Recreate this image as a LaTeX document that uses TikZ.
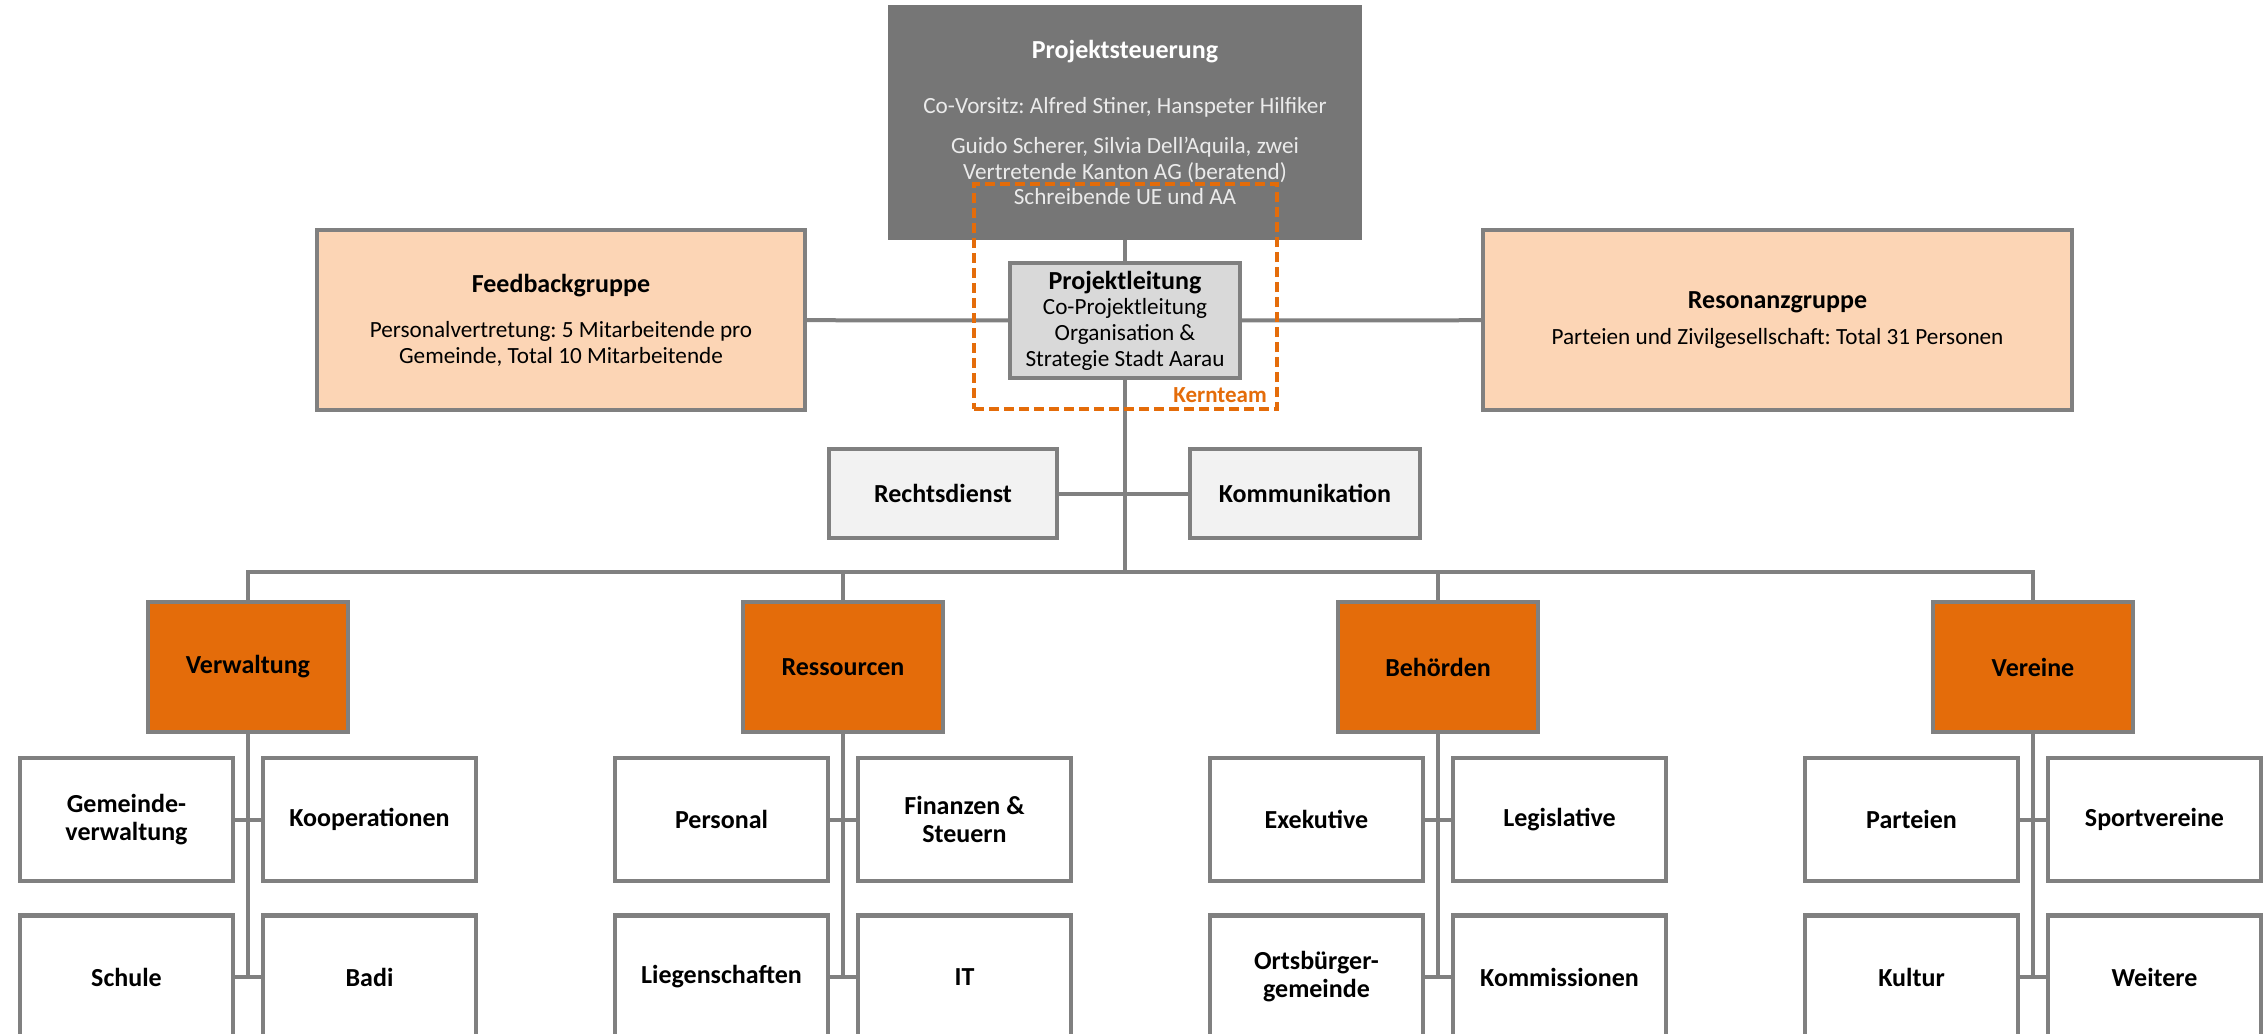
\documentclass[tikz,border=0pt]{standalone}
\usepackage{fontspec}
\setmainfont{Carlito}
\frenchspacing
\definecolor{rahmengrau}{RGB}{128,128,128}
\definecolor{steuergrau}{RGB}{118,118,118}
\definecolor{steuertext}{RGB}{235,235,235}
\definecolor{hellgrau}{RGB}{217,217,217}
\definecolor{fastweiss}{RGB}{242,242,242}
\definecolor{pfirsich}{RGB}{252,213,181}
\definecolor{orangedunkel}{RGB}{228,108,10}
\newcommand{\titel}[1]{{\fontsize{13}{15}\selectfont\bfseries #1}}

\begin{document}
\begin{tikzpicture}[x=0.5pt, y=-0.5pt,
        every node/.style={draw=rahmengrau, line width=2.2pt, align=center, inner sep=2pt,
            font=\fontsize{11.6}{12.8}\selectfont\frenchspacing},
        steuerbox/.style={fill=steuergrau, draw=steuergrau, text=steuertext,
            minimum width=235pt, minimum height=115.5pt},
        leitbox/.style={fill=hellgrau, minimum width=115pt, minimum height=57.5pt},
        gremium/.style={fill=pfirsich, minimum height=90pt},
        stabbox/.style={fill=fastweiss, minimum height=44.5pt,
            font=\fontsize{13}{15}\selectfont\bfseries},
        bereich/.style={fill=orangedunkel, minimum width=100pt, minimum height=65pt,
            font=\fontsize{13}{15}\selectfont\bfseries},
        teilbox/.style={fill=white, minimum width=106.5pt, minimum height=61.5pt,
            font=\fontsize{13}{14}\selectfont\bfseries},
        kernrahmen/.style={draw=orangedunkel, line width=2pt, dash pattern=on 5pt off 2.5pt,
            minimum width=151.5pt, minimum height=112.5pt},
        linie/.style={draw=rahmengrau, line width=2pt}]
    \useasboundingbox (0,0) rectangle (2267,1034);

    \node[steuerbox] (steuer) at (1125,122.5) {{\color{white}\titel{Projektsteuerung}}\\[15pt]
        Co-Vorsitz: Alfred Stiner, Hanspeter Hilfiker\\[7pt]
        Guido Scherer, Silvia Dell'Aquila, zwei\\
        Vertretende Kanton AG (beratend)\\
        Schreibende UE und AA};
    \node[leitbox] (leitung) at (1125,320.5) {\titel{Projektleitung}\\
        Co-Projektleitung\\ Organisation \&\\ Strategie Stadt Aarau};
    \node[gremium, minimum width=244pt] (feedback) at (561,320) {\titel{Feedbackgruppe}\\[10pt]
        Personalvertretung: 5 Mitarbeitende pro\\ Gemeinde, Total 10 Mitarbeitende};
    \node[gremium, minimum width=294.5pt] (resonanz) at (1777.5,320) {\titel{Resonanzgruppe}\\[5pt]
        Parteien und Zivilgesellschaft: Total 31 Personen};
    \node[stabbox, minimum width=114pt] (recht) at (943,493.5) {Rechtsdienst};
    \node[stabbox, minimum width=115pt] (komm) at (1305,493.5) {Kommunikation};

    \node[bereich] (verw) at (248,667) {Verwaltung};
    \node[bereich] (ress) at (843,667) {Ressourcen};
    \node[bereich] (behoerd) at (1438,667) {Behörden};
    \node[bereich] (verein) at (2033,667) {Vereine};

    \node[teilbox] (vw1) at (126.5,819.5) {Gemeinde-\\verwaltung};
    \node[teilbox] (vw2) at (369.5,819.5) {Kooperationen};
    \node[teilbox] (vw3) at (126.5,977) {Schule};
    \node[teilbox] (vw4) at (369.5,977) {Badi};
    \node[teilbox] (rs1) at (721.5,819.5) {Personal};
    \node[teilbox] (rs2) at (964.5,819.5) {Finanzen \&\\ Steuern};
    \node[teilbox] (rs3) at (721.5,977) {Liegenschaften};
    \node[teilbox] (rs4) at (964.5,977) {IT};
    \node[teilbox] (bh1) at (1316.5,819.5) {Exekutive};
    \node[teilbox] (bh2) at (1559.5,819.5) {Legislative};
    \node[teilbox] (bh3) at (1316.5,977) {Ortsbürger-\\gemeinde};
    \node[teilbox] (bh4) at (1559.5,977) {Kommissionen};
    \node[teilbox] (vr1) at (1911.5,819.5) {Parteien};
    \node[teilbox] (vr2) at (2154.5,819.5) {Sportvereine};
    \node[teilbox] (vr3) at (1911.5,977) {Kultur};
    \node[teilbox] (vr4) at (2154.5,977) {Weitere};

    \coordinate (bus) at (1125,572);

    \draw[linie] (steuer) -- (leitung);
    \draw[linie] (feedback) -- (leitung);
    \draw[linie] (leitung) -- (resonanz);
    \draw[linie] (leitung) -- (bus);
    \draw[linie] (recht) -- (komm);
    \draw[linie] (verw.north) |- (bus) -| (verein.north);
    \draw[linie] (ress.north) -- (ress.north |- bus);
    \draw[linie] (behoerd.north) -- (behoerd.north |- bus);

    \draw[linie] (verw.south) -- (verw.south |- vw3.east);
    \draw[linie] (vw1) -- (vw2);
    \draw[linie] (vw3) -- (vw4);
    \draw[linie] (ress.south) -- (ress.south |- rs3.east);
    \draw[linie] (rs1) -- (rs2);
    \draw[linie] (rs3) -- (rs4);
    \draw[linie] (behoerd.south) -- (behoerd.south |- bh3.east);
    \draw[linie] (bh1) -- (bh2);
    \draw[linie] (bh3) -- (bh4);
    \draw[linie] (verein.south) -- (verein.south |- vr3.east);
    \draw[linie] (vr1) -- (vr2);
    \draw[linie] (vr3) -- (vr4);

    % Kernteam
    \node[kernrahmen] (kern) at (1125.5,296.5) {};
    \node[draw=none, inner sep=0pt, anchor=base east, text=orangedunkel,
        font=\fontsize{11.5}{13}\selectfont\bfseries] (kernname)
        at ([xshift=-5pt, yshift=4.5pt]kern.south east) {Kernteam};
\end{tikzpicture}
\end{document}
